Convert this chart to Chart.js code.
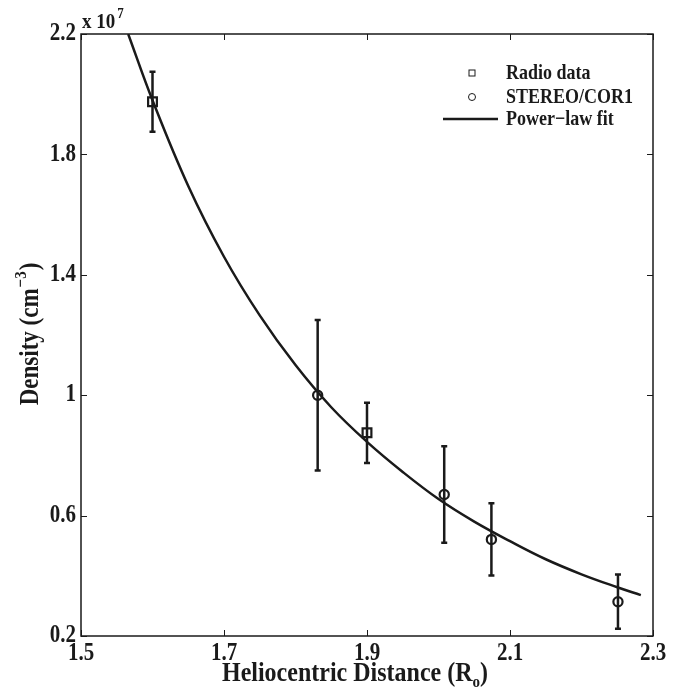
<!DOCTYPE html>
<html>
<head>
<meta charset="utf-8">
<script src="https://cdn.jsdelivr.net/npm/chart.js@4.4.1/dist/chart.umd.min.js"></script>
<style>
  html, body { margin: 0; padding: 0; background: #fff; }
  #wrap { width: 685px; height: 690px; }
</style>
</head>
<body>
<div id="wrap"><canvas id="densityChart"></canvas></div>
<script>
// values (density in units of 1e7 cm^-3)
const radioX = [1.6, 1.9];
const radioY = [1.975, 0.875];
const radioErr = [0.1, 0.1];

const corX = [1.831, 2.008, 2.074, 2.251];
const corY = [1.0, 0.67, 0.521, 0.314];
const corErr = [0.25, 0.16, 0.12, 0.09];

const fitX = [1.566, 1.6, 1.65, 1.7, 1.75, 1.8, 1.85, 1.9, 1.95, 2.0, 2.05, 2.1, 2.15, 2.2, 2.25, 2.283];
const fitY = [2.2, 1.98, 1.695, 1.46, 1.265, 1.10, 0.96, 0.845, 0.745, 0.655, 0.58, 0.515, 0.455, 0.405, 0.362, 0.336];

const xTicks = [1.5, 1.7, 1.9, 2.1, 2.3];
const xTickLabels = ["1.5", "1.7", "1.9", "2.1", "2.3"];
const yTicks = [0.2, 0.6, 1, 1.4, 1.8, 2.2];
const yTickLabels = ["0.2", "0.6", "1", "1.4", "1.8", "2.2"];

const ink = "#1a1a1a";
const serif = '"Liberation Serif", "Times New Roman", serif';

const toPoints = (xs, ys) => xs.map((x, i) => ({ x: x, y: ys[i] }));

function drawText(ctx, text, x, y, size, align, baseline) {
  ctx.save();
  ctx.font = "bold " + size + "px " + serif;
  ctx.textAlign = align;
  ctx.textBaseline = baseline;
  ctx.translate(x, y);
  ctx.scale(1, 1.15);
  ctx.fillText(text, 0, 0);
  ctx.restore();
}

function textWidth(ctx, text, size) {
  ctx.save();
  ctx.font = "bold " + size + "px " + serif;
  const w = ctx.measureText(text).width;
  ctx.restore();
  return w;
}

const errorBars = {
  id: "errorBars",
  beforeDatasetsDraw(chart) {
    const { ctx, scales } = chart;
    const groups = [[radioX, radioY, radioErr], [corX, corY, corErr]];
    ctx.save();
    ctx.strokeStyle = ink;
    ctx.lineWidth = 2.5;
    groups.forEach(([xs, ys, errs]) => {
      xs.forEach((xv, i) => {
        const px = scales.x.getPixelForValue(xv);
        const top = scales.y.getPixelForValue(ys[i] + errs[i]);
        const bot = scales.y.getPixelForValue(ys[i] - errs[i]);
        ctx.beginPath();
        ctx.moveTo(px, top);
        ctx.lineTo(px, bot);
        ctx.moveTo(px - 3, top);
        ctx.lineTo(px + 3, top);
        ctx.moveTo(px - 3, bot);
        ctx.lineTo(px + 3, bot);
        ctx.stroke();
      });
    });
    ctx.restore();
  }
};

const frame = {
  id: "frame",
  afterDraw(chart) {
    const { ctx, chartArea: a, scales } = chart;
    ctx.save();
    ctx.strokeStyle = ink;
    ctx.fillStyle = ink;
    ctx.lineWidth = 1.5;
    ctx.strokeRect(a.left, a.top, a.right - a.left, a.bottom - a.top);

    // inward ticks on all four sides
    ctx.lineWidth = 1;
    ctx.beginPath();
    xTicks.forEach(v => {
      const px = Math.round(scales.x.getPixelForValue(v)) + 0.5;
      ctx.moveTo(px, a.bottom); ctx.lineTo(px, a.bottom - 6);
      ctx.moveTo(px, a.top); ctx.lineTo(px, a.top + 6);
    });
    yTicks.forEach(v => {
      const py = Math.round(scales.y.getPixelForValue(v)) + 0.5;
      ctx.moveTo(a.left, py); ctx.lineTo(a.left + 6, py);
      ctx.moveTo(a.right, py); ctx.lineTo(a.right - 6, py);
    });
    ctx.stroke();

    xTicks.forEach((v, i) => {
      drawText(ctx, xTickLabels[i], scales.x.getPixelForValue(v), a.bottom + 6, 21, "center", "top");
    });
    yTicks.forEach((v, i) => {
      drawText(ctx, yTickLabels[i], a.left - 5, scales.y.getPixelForValue(v), 21, "right", "middle");
    });

    // exponent
    drawText(ctx, "x 10", a.left + 1, a.top - 6, 19, "left", "alphabetic");
    drawText(ctx, "7", a.left + 1 + textWidth(ctx, "x 10", 19) + 2, a.top - 16, 13, "left", "alphabetic");

    // x title with subscript
    const xt1 = "Heliocentric Distance (R";
    const w1 = textWidth(ctx, xt1, 24), w2 = textWidth(ctx, "o", 15), w3 = textWidth(ctx, ")", 24);
    let x0 = (a.left + a.right) / 2 - 12 - (w1 + w2 + w3) / 2;
    drawText(ctx, xt1, x0, 681, 24, "left", "alphabetic");
    drawText(ctx, "o", x0 + w1, 687, 15, "left", "alphabetic");
    drawText(ctx, ")", x0 + w1 + w2, 681, 24, "left", "alphabetic");

    // y title with superscript, rotated
    ctx.save();
    ctx.translate(38, (a.top + a.bottom) / 2);
    ctx.rotate(-Math.PI / 2);
    const yt1 = "Density (cm";
    const v1 = textWidth(ctx, yt1, 23), v2 = textWidth(ctx, "\u22123", 15), v3 = textWidth(ctx, ")", 23);
    let y0 = -(v1 + v2 + v3) / 2;
    drawText(ctx, yt1, y0, 0, 23, "left", "alphabetic");
    drawText(ctx, "\u22123", y0 + v1 + 1, -12, 15, "left", "alphabetic");
    drawText(ctx, ")", y0 + v1 + v2 + 2, 0, 23, "left", "alphabetic");
    ctx.restore();

    // legend
    const lx = 472, rows = [73, 97, 119];
    ctx.lineWidth = 1;
    ctx.strokeRect(lx - 3, rows[0] - 3, 6, 6);
    ctx.beginPath();
    ctx.arc(lx, rows[1], 3.5, 0, Math.PI * 2);
    ctx.stroke();
    ctx.lineWidth = 2.5;
    ctx.beginPath();
    ctx.moveTo(443, rows[2]);
    ctx.lineTo(498, rows[2]);
    ctx.stroke();
    chart.data.datasets.forEach((ds, i) => {
      drawText(ctx, ds.label, 506, rows[i] + 1, 18, "left", "middle");
    });
    ctx.restore();
  }
};

const ctx = document.getElementById("densityChart").getContext("2d");
new Chart(ctx, {
  type: "scatter",
  data: {
    datasets: [
      {
        label: "Radio data",
        data: toPoints(radioX, radioY),
        pointStyle: "rect",
        pointRadius: 6.2,
        borderColor: ink,
        backgroundColor: "transparent",
        borderWidth: 2.2
      },
      {
        label: "STEREO/COR1",
        data: toPoints(corX, corY),
        pointStyle: "circle",
        pointRadius: 4.6,
        borderColor: ink,
        backgroundColor: "transparent",
        borderWidth: 2.2
      },
      {
        label: "Power\u2212law fit",
        data: toPoints(fitX, fitY),
        showLine: true,
        pointRadius: 0,
        borderColor: ink,
        borderWidth: 2.5,
        tension: 0.4
      }
    ]
  },
  options: {
    responsive: true,
    maintainAspectRatio: false,
    animation: false,
    events: [],
    layout: { padding: { top: 34, right: 32, left: 0, bottom: 0 } },
    plugins: { legend: { display: false }, tooltip: { enabled: false } },
    scales: {
      x: {
        type: "linear",
        min: 1.5,
        max: 2.3,
        grid: { display: false },
        border: { display: false },
        ticks: { display: false },
        afterBuildTicks: axis => { axis.ticks = xTicks.map(v => ({ value: v })); },
        afterFit: axis => { axis.height = 54; }
      },
      y: {
        type: "linear",
        min: 0.2,
        max: 2.2,
        grid: { display: false },
        border: { display: false },
        ticks: { display: false },
        afterBuildTicks: axis => { axis.ticks = yTicks.map(v => ({ value: v })); },
        afterFit: axis => { axis.width = 81; }
      }
    }
  },
  plugins: [errorBars, frame]
});
</script>
</body>
</html>
